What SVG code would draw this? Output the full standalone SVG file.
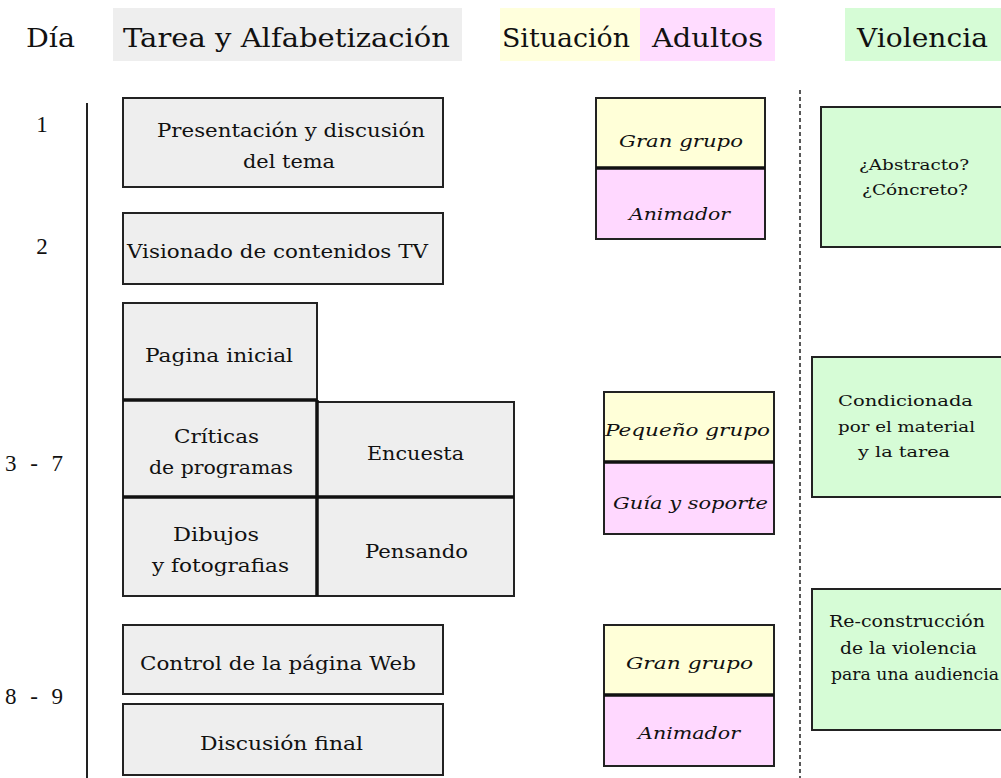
<svg xmlns="http://www.w3.org/2000/svg" width="1001" height="778" viewBox="0 0 1001 778">
<style>
text{font-family:"DejaVu Serif","Liberation Serif",serif;fill:#111}
.hd{font-size:26px}
.day{font-size:23px;text-anchor:middle;font-family:"Liberation Serif",serif}
.t{font-size:18.5px;text-anchor:middle}
.it{font-size:17px;font-style:italic;text-anchor:middle}
.v{font-size:15.5px;text-anchor:middle}
.v2{font-size:17px;text-anchor:middle}
.task{fill:#eeeeee;stroke:#222;stroke-width:2}
.sit{fill:#ffffd8;stroke:#222;stroke-width:2}
.adu{fill:#ffd8ff;stroke:#222;stroke-width:2}
.vio{fill:#d6fcd6;stroke:#222;stroke-width:2}
.div{stroke:#111;stroke-width:3.5}
</style>
<rect width="1001" height="778" fill="#ffffff"/>
<g id="header">
<rect x="113" y="8" width="349" height="53" fill="#eeeeee"/>
<rect x="500" y="8" width="140" height="53" fill="#ffffdc"/>
<rect x="640" y="8" width="135" height="53" fill="#ffdcff"/>
<rect x="845" y="8" width="160" height="53" fill="#d6fcd6"/>
<text class="hd" x="26" y="47" textLength="49" lengthAdjust="spacingAndGlyphs">Día</text>
<text class="hd" x="123" y="47" textLength="327" lengthAdjust="spacingAndGlyphs">Tarea y Alfabetización</text>
<text class="hd" x="502" y="47" textLength="128" lengthAdjust="spacingAndGlyphs">Situación</text>
<text class="hd" x="652" y="47" textLength="111" lengthAdjust="spacingAndGlyphs">Adultos</text>
<text class="hd" x="857" y="47" textLength="131" lengthAdjust="spacingAndGlyphs">Violencia</text>
</g>
<g id="days">
<text class="day" x="42" y="132">1</text>
<text class="day" x="42" y="254">2</text>
<text class="day" x="34" y="471" textLength="58" lengthAdjust="spacing">3 - 7</text>
<text class="day" x="34" y="704" textLength="58" lengthAdjust="spacing">8 - 9</text>
</g>
<g id="connectors">
<line x1="87" y1="103" x2="87" y2="778" stroke="#222" stroke-width="2"/>
<line x1="800" y1="90" x2="800" y2="778" stroke="#222" stroke-width="1.5" stroke-dasharray="4,3"/>
</g>
<g id="presentacion">
<rect class="task" x="123" y="98" width="320" height="89"/>
<text class="t" x="291" y="137" textLength="268" lengthAdjust="spacingAndGlyphs">Presentación y discusión</text>
<text class="t" x="289" y="168" textLength="92" lengthAdjust="spacingAndGlyphs">del tema</text>
</g>
<g id="visionado">
<rect class="task" x="123" y="213" width="320" height="71"/>
<text class="t" x="277.5" y="258" textLength="301" lengthAdjust="spacingAndGlyphs">Visionado de contenidos TV</text>
</g>
<g id="pagina">
<rect class="task" x="123" y="303" width="194" height="97"/>
<text class="t" x="219" y="362" textLength="148" lengthAdjust="spacingAndGlyphs">Pagina inicial</text>
</g>
<g id="criticas">
<rect class="task" x="123" y="400" width="194" height="97"/>
<text class="t" x="216.5" y="443" textLength="85" lengthAdjust="spacingAndGlyphs">Críticas</text>
<text class="t" x="221" y="474" textLength="144" lengthAdjust="spacingAndGlyphs">de programas</text>
</g>
<g id="encuesta">
<rect class="task" x="317" y="402" width="197" height="95"/>
<text class="t" x="415.5" y="460" textLength="97" lengthAdjust="spacingAndGlyphs">Encuesta</text>
</g>
<g id="dibujos">
<rect class="task" x="123" y="497" width="194" height="99"/>
<text class="t" x="216" y="541" textLength="86" lengthAdjust="spacingAndGlyphs">Dibujos</text>
<text class="t" x="220.5" y="572" textLength="137" lengthAdjust="spacingAndGlyphs">y fotografias</text>
</g>
<g id="pensando">
<rect class="task" x="317" y="497" width="197" height="99"/>
<text class="t" x="416.5" y="558" textLength="103" lengthAdjust="spacingAndGlyphs">Pensando</text>
</g>
<g id="control">
<rect class="task" x="123" y="625" width="320" height="69"/>
<text class="t" x="278" y="670" textLength="276" lengthAdjust="spacingAndGlyphs">Control de la página Web</text>
</g>
<g id="discusion">
<rect class="task" x="123" y="704" width="320" height="71"/>
<text class="t" x="281.5" y="750" textLength="163" lengthAdjust="spacingAndGlyphs">Discusión final</text>
</g>
<g id="grid-dividers">
<line class="div" x1="123" y1="400" x2="317" y2="400"/>
<line class="div" x1="123" y1="497" x2="514" y2="497"/>
<line class="div" x1="317" y1="400" x2="317" y2="596"/>
</g>
<g id="sit1">
<rect class="sit" x="596" y="98" width="169" height="70"/>
<rect class="adu" x="596" y="168" width="169" height="71"/>
<line class="div" x1="596" y1="168" x2="765" y2="168"/>
<text class="it" x="681" y="147" textLength="124" lengthAdjust="spacingAndGlyphs">Gran grupo</text>
<text class="it" x="679.5" y="220" textLength="101" lengthAdjust="spacingAndGlyphs">Animador</text>
</g>
<g id="sit2">
<rect class="sit" x="604" y="392" width="170" height="70"/>
<rect class="adu" x="604" y="462" width="170" height="72"/>
<line class="div" x1="604" y1="462" x2="774" y2="462"/>
<text class="it" x="687.5" y="436" textLength="165" lengthAdjust="spacingAndGlyphs">Pequeño grupo</text>
<text class="it" x="690.5" y="509" textLength="155" lengthAdjust="spacingAndGlyphs">Guía y soporte</text>
</g>
<g id="sit3">
<rect class="sit" x="604" y="625" width="170" height="70"/>
<rect class="adu" x="604" y="695" width="170" height="71"/>
<line class="div" x1="604" y1="695" x2="774" y2="695"/>
<text class="it" x="689.5" y="669" textLength="127" lengthAdjust="spacingAndGlyphs">Gran grupo</text>
<text class="it" x="689" y="739" textLength="102" lengthAdjust="spacingAndGlyphs">Animador</text>
</g>
<g id="vio1">
<rect class="vio" x="821" y="107" width="190" height="140"/>
<text class="v" x="914" y="170" textLength="110" lengthAdjust="spacingAndGlyphs">¿Abstracto?</text>
<text class="v" x="915" y="195" textLength="106" lengthAdjust="spacingAndGlyphs">¿Cóncreto?</text>
</g>
<g id="vio2">
<rect class="vio" x="812" y="357" width="199" height="140"/>
<text class="v" x="905.5" y="406" textLength="135" lengthAdjust="spacingAndGlyphs">Condicionada</text>
<text class="v" x="906.5" y="432" textLength="137" lengthAdjust="spacingAndGlyphs">por el material</text>
<text class="v" x="904" y="457" textLength="92" lengthAdjust="spacingAndGlyphs">y la tarea</text>
</g>
<g id="vio3">
<rect class="vio" x="812" y="589" width="199" height="141"/>
<text class="v2" x="907" y="627" textLength="156" lengthAdjust="spacingAndGlyphs">Re-construcción</text>
<text class="v2" x="908.5" y="654" textLength="137" lengthAdjust="spacingAndGlyphs">de la violencia</text>
<text class="v2" x="915" y="680" textLength="168" lengthAdjust="spacingAndGlyphs">para una audiencia</text>
</g>
</svg>
